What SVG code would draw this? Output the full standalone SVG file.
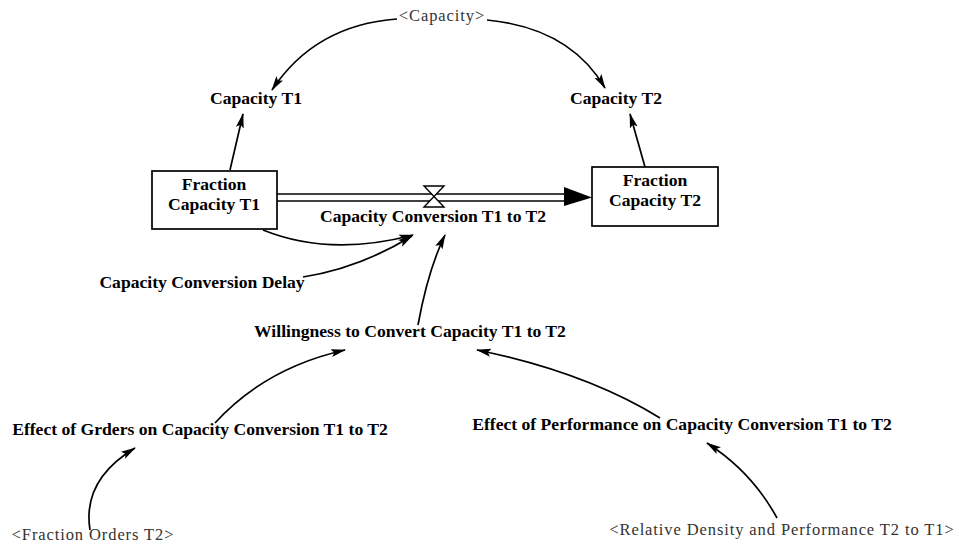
<svg xmlns="http://www.w3.org/2000/svg" width="959" height="545" viewBox="0 0 959 545">
<defs>
<marker id="ah" markerWidth="15" markerHeight="9" refX="14" refY="4.5" orient="auto" markerUnits="userSpaceOnUse">
<path d="M0,0.5 L15,4.5 L0,8.5 L3,4.5 Z" fill="#000"/>
</marker>
</defs>
<style>
text{font-family:"Liberation Serif","Times New Roman",serif;fill:#000}
.b{font-weight:bold;font-size:17.6px}
.s{font-size:16.5px;letter-spacing:0.9px;fill:#333}
.lk{fill:none;stroke:#000;stroke-width:1.7;marker-end:url(#ah)}
.box{fill:#fff;stroke:#000;stroke-width:1.7}
</style>
<rect width="959" height="545" fill="#fff"/>
<g id="connectors">
<path class="lk" d="M397,19 Q315,25 272,90"/>
<path class="lk" d="M487,20 Q570,28 605,88"/>
<path class="lk" d="M230,170 L243,114"/>
<path class="lk" d="M645,167 L630,114"/>
<path class="lk" d="M263,230 Q330,257 413,235"/>
<path class="lk" d="M303,277 Q360,268 412,236"/>
<path class="lk" d="M418,325 Q428,270 445,235"/>
<path class="lk" d="M215,423 Q265,368 345,350"/>
<path class="lk" d="M90,530 Q82,480 135,448"/>
<path class="lk" d="M660,418 Q585,372 477,350"/>
<path class="lk" d="M777,518 Q752,472 707,443"/>
<g id="flow">
<line x1="277" y1="194" x2="570" y2="194" stroke="#000" stroke-width="1.7"/>
<line x1="277" y1="201" x2="570" y2="201" stroke="#000" stroke-width="1.7"/>
<path d="M564,187 L592,197.5 L564,206 Z" fill="#000"/>
<path d="M424,186 L444,186 L424,207 L444,207 Z" fill="#fff" stroke="#000" stroke-width="1.4"/>
</g>
</g>
<g id="capacity"><text class="s" x="442" y="21" text-anchor="middle">&lt;Capacity&gt;</text></g>
<g id="capT1"><text class="b" x="256" y="104" text-anchor="middle">Capacity T1</text></g>
<g id="capT2"><text class="b" x="616" y="104" text-anchor="middle">Capacity T2</text></g>
<g id="fracT1">
<rect class="box" x="152" y="171" width="125" height="58"/>
<text class="b" x="214" y="190" text-anchor="middle">Fraction</text>
<text class="b" x="214" y="210" text-anchor="middle">Capacity T1</text>
</g>
<g id="fracT2">
<rect class="box" x="592" y="167" width="126" height="59"/>
<text class="b" x="655" y="186" text-anchor="middle">Fraction</text>
<text class="b" x="655" y="206" text-anchor="middle">Capacity T2</text>
</g>
<g id="conv"><text class="b" x="433" y="222" text-anchor="middle">Capacity Conversion T1 to T2</text></g>
<g id="delay"><text class="b" x="202" y="288" text-anchor="middle">Capacity Conversion Delay</text></g>
<g id="will"><text class="b" x="410" y="337" text-anchor="middle">Willingness to Convert Capacity T1 to T2</text></g>
<g id="effOrd"><text class="b" x="200" y="435" text-anchor="middle">Effect of Grders on Capacity Conversion T1 to T2</text></g>
<g id="effPerf"><text class="b" x="682" y="430" text-anchor="middle">Effect of Performance on Capacity Conversion T1 to T2</text></g>
<g id="fracOrd"><text class="s" x="93" y="540" text-anchor="middle">&lt;Fraction Orders T2&gt;</text></g>
<g id="relDens"><text class="s" x="782" y="535" text-anchor="middle">&lt;Relative Density and Performance T2 to T1&gt;</text></g>
</svg>
